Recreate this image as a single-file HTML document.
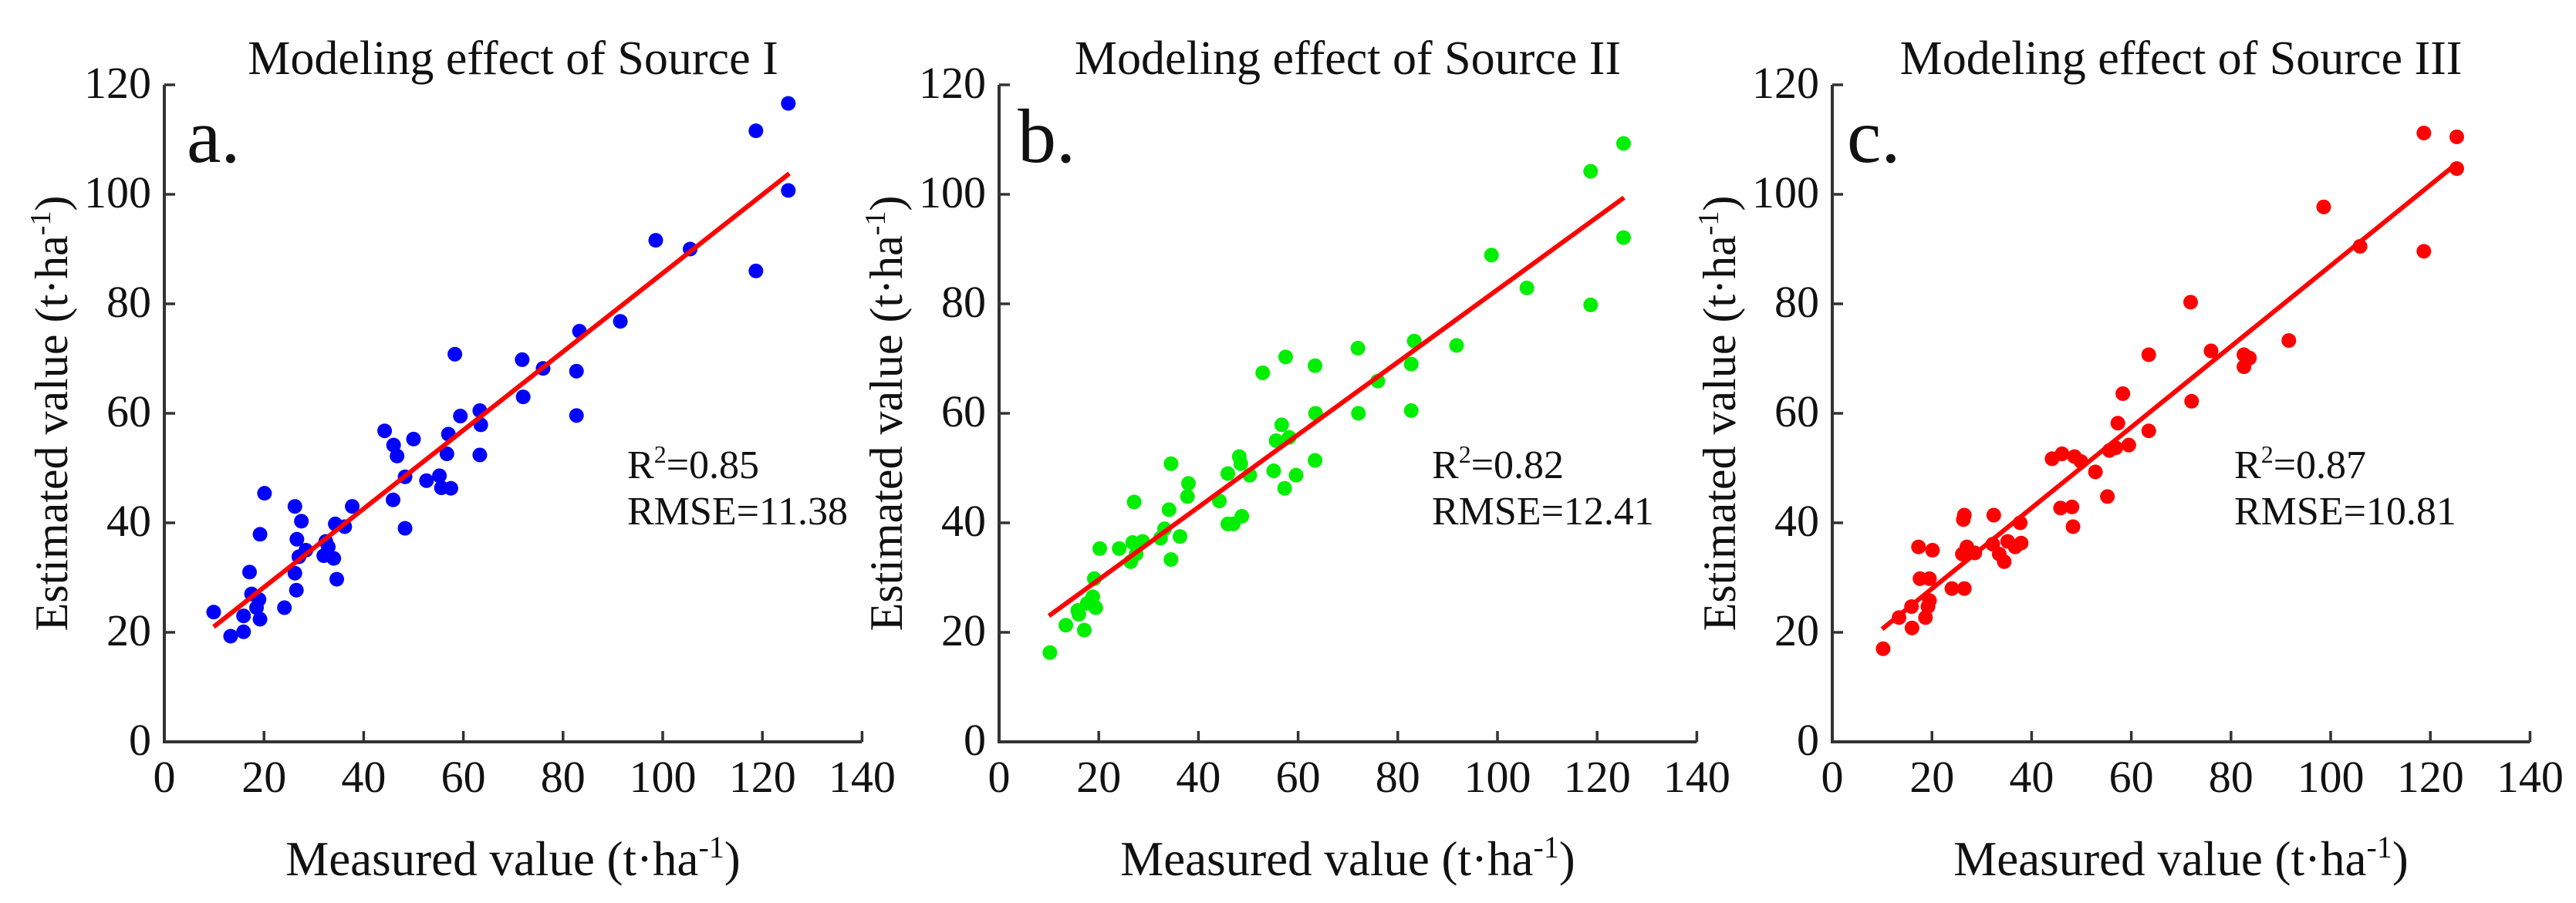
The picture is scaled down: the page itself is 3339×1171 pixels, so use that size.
<!DOCTYPE html>
<html><head><meta charset="utf-8"><style>
html,body{margin:0;padding:0;background:#fff;}
svg{display:block;}
text,tspan{font-family:"Liberation Serif","Times New Roman",serif !important;}
</style></head><body>
<svg id="fig" width="3339" height="1171" viewBox="0 0 3339 1171" xmlns="http://www.w3.org/2000/svg"></svg>
<script>
const xTicks=[0,20,40,60,80,100,120,140];
const yTicks=[0,20,40,60,80,100,120];
const titles=["Modeling effect of Source I","Modeling effect of Source II","Modeling effect of Source III"];
const letters=["a.","b.","c."];
const r2Labels=["0.85","0.82","0.87"];
const rmseLabels=["11.38","12.41","10.81"];
const colors=["#0000ff","#00ee00","#ff0000"];
const measuredA=[9.9,13.3,15.9,15.9,17.1,17.5,18.5,19,19.2,19.2,20.1,24.1,26.2,26.2,26.5,26.6,27,27.5,28.4,32,32.4,32.9,34,34.3,34.6,36.2,37.7,44.2,45.9,46,46.7,48.3,48.3,50,52.6,55.2,55.6,56.7,57,57.5,58.3,59.4,63.3,63.5,63.3,71.8,72,76,82.7,82.7,83.3,91.5,98.6,105.5,118.7,118.7,125.2,125.2];
const estimatedA=[23.7,19.3,23,20.1,31,27,24.5,26,22.4,37.9,45.4,24.5,43,30.8,27.7,37,33.8,40.3,35,34,36.6,35.6,33.5,39.8,29.7,39.3,43,56.8,44.2,54.2,52.2,48.4,39,55.3,47.7,48.6,46.4,52.6,56.2,46.3,70.8,59.5,60.5,57.9,52.4,69.8,63,68.2,67.7,59.6,75,76.8,91.6,90,111.6,86,116.6,100.7];
const measuredB=[10.2,13.4,15.8,16,17.1,17.7,18.8,19.1,19.4,20.2,24.1,26.4,26.8,27.1,27.5,28.8,32.4,33.2,34.5,34.1,34.5,36.3,37.8,38,44.2,45.9,45.9,47,48.2,48.5,48.7,50.3,52.9,55.1,55.6,56.7,57.3,57.5,58.2,59.6,63.4,63.5,63.4,72,72.1,76,82.7,82.7,83.3,91.8,98.8,105.9,118.7,118.7,125.3,125.3];
const estimatedB=[16.3,21.3,24,23.3,20.4,25.3,26.5,29.8,24.5,35.3,35.3,32.9,36.4,43.8,34.3,36.6,37.2,38.9,33.3,42.4,50.8,37.5,44.8,47.2,44,49,39.8,39.8,52.1,50.8,41.2,48.7,67.4,49.5,55,57.9,46.3,70.3,55.6,48.7,68.7,60,51.4,71.9,60,65.9,69,60.5,73.2,72.4,88.9,82.9,104.2,79.8,109.3,92.1];
const measuredC=[10.2,13.4,15.9,16,17.3,17.6,18.7,19.2,19.5,19.5,20.1,24,26.1,26.3,26.5,26.5,27,28.6,32.4,32.2,33.5,34.5,35.2,36.7,37.7,37.9,44.1,45.8,46.1,48.3,48.1,48.6,49.9,52.8,55.2,55.6,56.9,57.3,58.3,59.5,63.5,63.5,71.9,72.1,76,82.6,82.6,83.7,91.6,98.6,105.9,118.7,118.7,125.3,125.3];
const estimatedC=[17,22.7,24.7,20.8,35.6,29.8,22.7,24.7,29.8,25.8,35,28,34.3,40.6,41.4,28,35.6,34.5,41.4,36.1,34.3,32.9,36.6,35.6,40,36.3,51.7,42.7,52.6,39.3,42.9,52.1,51.2,49.3,44.8,53.2,53.7,58.2,63.6,54.2,56.8,70.7,80.3,62.2,71.4,68.5,70.7,70.1,73.3,97.7,90.5,111.2,89.6,110.5,104.7];
const fitStartX=[9.9,10,10];
const fitStartY=[21,23,20.6];
const fitEndX=[125.4,125.4,125.4];
const fitEndY=[103.8,99.4,105.7];
const measured=[measuredA,measuredB,measuredC];
const estimated=[estimatedA,estimatedB,estimatedC];

const NS="http://www.w3.org/2000/svg";
const FF='Liberation Serif, serif';
const svg=document.getElementById('fig');
function mk(tag,attrs,parent){const e=document.createElementNS(NS,tag);for(const k in attrs)e.setAttribute(k,attrs[k]);if(tag==='text')e.setAttribute('font-family',FF);(parent||svg).appendChild(e);return e;}
const originX=[213,1295,2375];
const annX=[600,561,521];
const letX=[29,24,19];
const Y0=962, YPU=(962-110)/120, XPU=6.46;
for(let p=0;p<3;p++){
  const ox=originX[p];
  const sx=v=>ox+v*XPU, sy=v=>Y0-v*YPU;
  const g=mk('g',{});
  
  
  const t=mk('text',{x:ox+452,y:96,'font-size':62,'text-anchor':'middle',fill:'#111'},g);
  
  
  t.textContent=titles[p];
  const L=mk('text',{x:ox+letX[p],y:210,'font-size':100,fill:'#111'},g);
  
  
  L.textContent=letters[p];
  const ax=mk('path',{d:`M${sx(0)},${sy(120)} L${sx(0)},${sy(0)} L${sx(140)},${sy(0)}`,fill:'none',stroke:'#333',"stroke-width":4},g);
  
  
  xTicks.forEach(v=>{
    if(v>0){const tk=mk('line',{x1:sx(v),x2:sx(v),y1:Y0,y2:Y0-14,stroke:'#333','stroke-width':3.5},g);
    
    }
    const lb=mk('text',{x:sx(v),y:1027,'font-size':58,'text-anchor':'middle',fill:'#111'},g);
    
    
    lb.textContent=v;
  });
  yTicks.forEach(v=>{
    if(v>0){const tk=mk('line',{x1:ox,x2:ox+14,y1:sy(v),y2:sy(v),stroke:'#333','stroke-width':3.5},g);
    
    }
    const lb=mk('text',{x:ox-17,y:sy(v)+17,'font-size':58,'text-anchor':'end',fill:'#111'},g);
    
    
    lb.textContent=v;
  });
  const xt=mk('text',{x:ox+452,y:1135,'font-size':63,'text-anchor':'middle',fill:'#111'},g);
  
  
  xt.innerHTML='Measured value (t·ha<tspan dy="-23" font-size="40">-1</tspan><tspan dy="23">)</tspan>';
  const yt=mk('text',{x:0,y:0,'font-size':60,'text-anchor':'middle',fill:'#111',transform:`translate(${ox-126},536) rotate(-90)`},g);
  
  
  yt.innerHTML='Estimated value (t·ha<tspan dy="-22" font-size="38">-1</tspan><tspan dy="22">)</tspan>';
  const xs=measured[p], ys=estimated[p];
  for(let i=0;i<xs.length;i++){
    const c=mk('circle',{cx:sx(xs[i]),cy:sy(ys[i]),r:9.5,fill:colors[p]},g);
    
    
  }
  const fl=mk('line',{x1:sx(fitStartX[p]),y1:sy(fitStartY[p]),x2:sx(fitEndX[p]),y2:sy(fitEndY[p]),stroke:'#ff0000','stroke-width':6},g);
  
  
  const r2=mk('text',{x:ox+annX[p],y:620,'font-size':52,fill:'#111'},g);
  
  
  r2.innerHTML='R<tspan dy="-20" font-size="32">2</tspan><tspan dy="20">='+r2Labels[p]+'</tspan>';
  const rm=mk('text',{x:ox+annX[p],y:680,'font-size':52,fill:'#111'},g);
  
  
  rm.textContent='RMSE='+rmseLabels[p];
}
</script>
</body></html>
